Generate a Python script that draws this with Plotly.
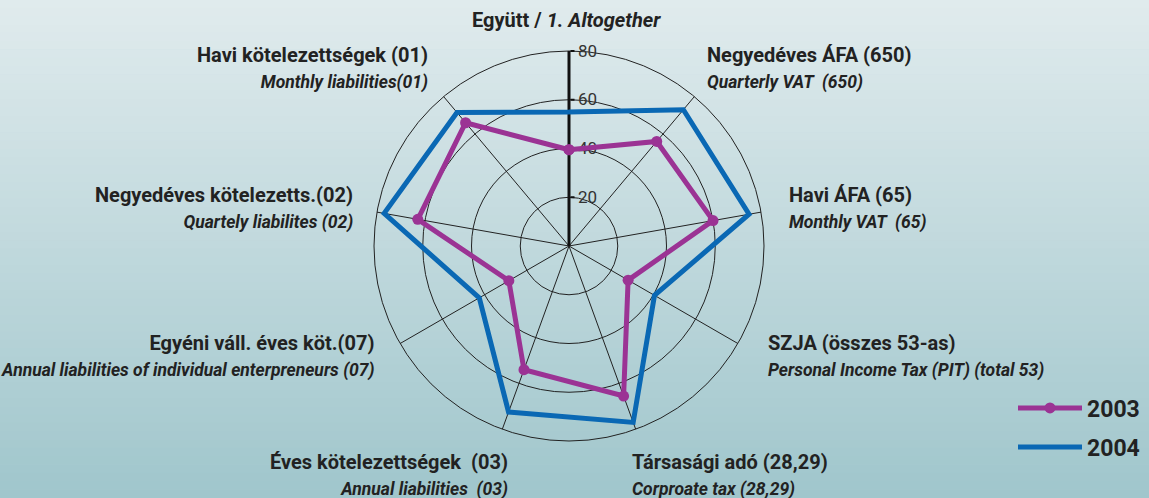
import plotly.graph_objects as go

# ---------------- data ----------------
categories_hu = [
    "Együtt /",
    "Negyedéves ÁFA (650)",
    "Havi ÁFA (65)",
    "SZJA (összes 53-as)",
    "Társasági adó (28,29)",
    "Éves kötelezettségek  (03)",
    "Egyéni váll. éves köt.(07)",
    "Negyedéves kötelezetts.(02)",
    "Havi kötelezettségek (01)",
]
categories_en = [
    "1. Altogether",
    "Quarterly VAT  (650)",
    "Monthly VAT  (65)",
    "Personal Income Tax (PIT) (total 53)",
    "Corproate tax (28,29)",
    "Annual liabilities  (03)",
    "Annual liabilities of individual enterpreneurs (07)",
    "Quartely liabilites (02)",
    "Monthly liabilities(01)",
]
values_2003 = [39.5, 56, 60, 28, 65.5, 54, 28.5, 63, 66]
values_2004 = [55, 73, 75, 40.5, 77, 72.5, 42.5, 77, 71.5]
series_names = ["2003", "2004"]
radial_ticks = [20, 40, 60, 80]

# ---------------- layout constants ----------------
W, H = 1149, 498
CX, CY, RAD = 569, 246, 195
FONT = "Roboto, Liberation Sans, sans-serif"
PURPLE = "#9b3394"
BLUE = "#0a68b4"


def px(x):
    return x / W


def py(y):
    return 1 - y / H


theta = categories_hu + [categories_hu[0]]

fig = go.Figure()
fig.add_trace(go.Scatterpolar(
    r=values_2003 + [values_2003[0]], theta=theta, name=series_names[0],
    mode="lines+markers", line=dict(color=PURPLE, width=5),
    marker=dict(color=PURPLE, size=11), legend="legend",
))
fig.add_trace(go.Scatterpolar(
    r=values_2004 + [values_2004[0]], theta=theta, name=series_names[1],
    mode="lines", line=dict(color=BLUE, width=5), legend="legend2",
))

# background gradient bands
top = (224, 235, 237)
bot = (160, 198, 204)
nb = 60
shapes = []
for i in range(nb):
    t = i / (nb - 1)
    c = tuple(int(round(top[k] + (bot[k] - top[k]) * t)) for k in range(3))
    shapes.append(dict(type="rect", xref="paper", yref="paper",
                       x0=0, x1=1, y0=1 - (i + 1) / nb, y1=1 - i / nb + 0.001,
                       fillcolor="rgb(%d,%d,%d)" % c, line=dict(width=0), layer="below"))

# category labels
label_pos = [(566, 20, "center"), (705, 68, "left"), (787, 208, "left"),
             (766, 356, "left"), (630, 475, "left"), (510, 475, "right"),
             (377, 356, "right"), (355, 208, "right"), (430, 68, "right")]
annotations = []
for i, (hu, en) in enumerate(zip(categories_hu, categories_en)):
    x, y, anc = label_pos[i]
    if i == 0:
        txt = "<b>%s </b><b><i>%s</i></b>" % (hu, en)
    else:
        txt = ("<b>%s</b><br><b><i><span style='font-size:17.5px'>%s</span></i></b>"
               % (hu, en))
    annotations.append(dict(text=txt, x=px(x), y=py(y), xref="paper", yref="paper",
                            xanchor=anc, yanchor="middle", align=anc, showarrow=False,
                            font=dict(family=FONT, size=20, color="#222")))

fig.update_layout(
    width=W, height=H,
    margin=dict(l=0, r=0, t=0, b=0),
    paper_bgcolor="rgb(192,215,219)",
    shapes=shapes,
    annotations=annotations,
    polar=dict(
        domain=dict(x=[px(CX - RAD), px(CX + RAD)], y=[py(CY + RAD), py(CY - RAD)]),
        bgcolor="rgba(0,0,0,0)",
        radialaxis=dict(range=[0, 80], tickvals=radial_ticks, angle=90, tickangle=90,
                        showline=True, linecolor="#111", linewidth=3,
                        ticks="outside", ticklen=4, tickwidth=2, tickcolor="#111",
                        gridcolor="#222", gridwidth=1, layer="below traces",
                        tickfont=dict(family=FONT, size=17, color="#333")),
        angularaxis=dict(direction="clockwise", rotation=90, showline=True,
                         linecolor="#222", linewidth=1, gridcolor="#222", gridwidth=1,
                         showticklabels=False, ticks="", layer="below traces"),
    ),
    legend=dict(x=px(1013), y=py(408), xanchor="left", yanchor="middle",
                bgcolor="rgba(0,0,0,0)", itemwidth=64,
                font=dict(family=FONT, size=23, color="#222", weight="bold")),
    legend2=dict(x=px(1013), y=py(447), xanchor="left", yanchor="middle",
                 bgcolor="rgba(0,0,0,0)", itemwidth=64,
                 font=dict(family=FONT, size=23, color="#222", weight="bold")),
    showlegend=True,
)

fig.write_html("out.html", config={"displayModeBar": False},
               post_script="document.body.style.margin='0';")
